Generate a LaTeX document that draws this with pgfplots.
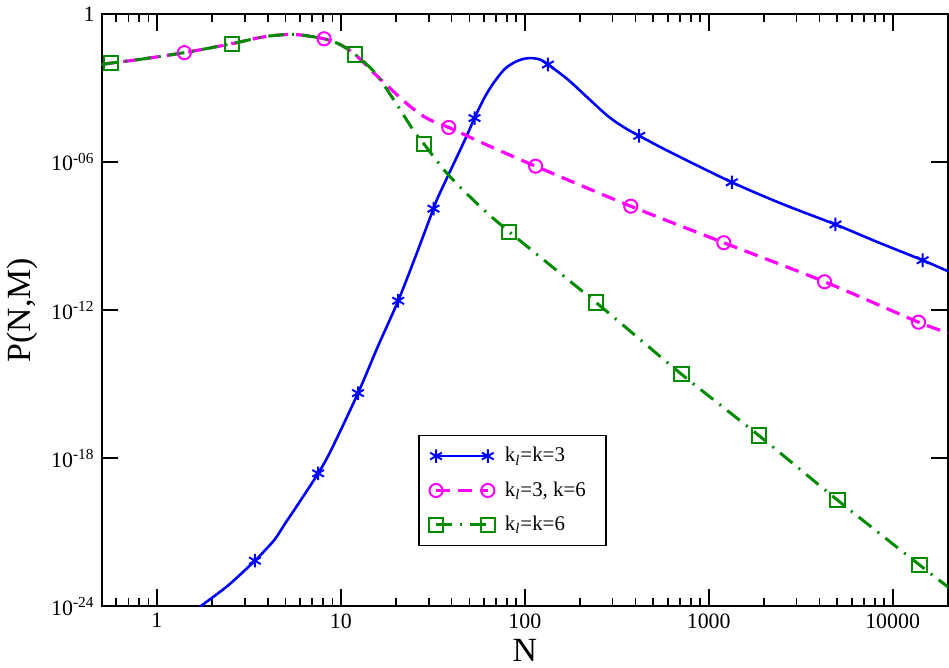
\documentclass[border=0pt]{standalone}
\usepackage{fontspec}
\setmainfont{Liberation Serif}
\usepackage{pgfplots}
\pgfplotsset{compat=1.18}
\definecolor{ggreen}{RGB}{0,139,0}
\definecolor{mag}{RGB}{255,0,255}
\definecolor{bblue}{RGB}{0,0,255}
\begin{document}
\begin{tikzpicture}
\begin{axis}[
 scale only axis, width=425pt, height=297.5pt,
 xmode=log, ymode=log,
 xmin=0.5, xmax=20000, ymin=1e-24, ymax=1,
 xtick={1,10,100,1000,10000}, xticklabels={1,10,100,1000,10000},
 minor xtick={0.6,0.7,0.8,0.9,2,3,4,5,6,7,8,9,20,30,40,50,60,70,80,90,200,300,400,500,600,700,800,900,2000,3000,4000,5000,6000,7000,8000,9000},
 ytick={1e-24,1e-18,1e-12,1e-6,1},
 yticklabels={10\textsuperscript{-24},10\textsuperscript{-18},10\textsuperscript{-12},10\textsuperscript{-06},1},
 yminorticks=false,
 tick align=inside,
 major tick length=8.5pt, minor tick length=4.3pt,
 tick style={black, line width=0.9pt},
 axis line style={line width=1pt},
 tick label style={font=\fontsize{11}{13}\selectfont},
 xlabel={N}, ylabel={P(N,M)},
 label style={font=\fontsize{17}{20}\selectfont},
 xlabel style={at={(axis description cs:0.5,-0.074)}, anchor=center},
 ylabel style={at={(axis description cs:-0.094,0.5)}, anchor=center},
 legend style={at={(rel axis cs:0.374,0.29)}, anchor=north west, font=\fontsize{10.5}{12}\selectfont, draw=black, line width=0.8pt, row sep=4.5pt, inner xsep=5pt, inner ysep=4pt, nodes={inner xsep=5pt}},
 legend cell align=left,
]
% ---- k_l=k=3 (blue)
\addplot[bblue, line width=1.3pt, smooth, forget plot] table {
1.60 6.31e-25
1.754 1.10e-24
2.44 7.08e-24
3.41 7.08e-23
3.90 2.00e-22
4.39 5.37e-22
5.00 2.40e-21
5.62 8.71e-21
7.53 2.45e-19
8.89 2.29e-18
12.4 4.37e-16
15.9 3.39e-14
20.5 2.40e-12
25.7 1.78e-10
31.9 1.29e-8
34.4 5.13e-8
47.0 7.24e-6
53.3 6.03e-5
60.3 3.98e-4
67.6 1.58e-3
77.4 5.62e-3
87.1 1.05e-2
97.7 1.48e-2
109.6 1.62e-2
123 1.35e-2
133.7 8.91e-3
171 2.24e-3
210 5.50e-4
282 7.41e-5
347 2.51e-5
419 1.15e-5
622 2.45e-6
1336 1.51e-7
2512 2.0e-8
4887 2.95e-9
8318 5.62e-10
14555 1.05e-10
20230 3.63e-11
};
\addplot[bblue, only marks, mark=asterisk, mark size=3.4pt, mark options={solid, line width=1pt},
 legend image code/.code={\draw[bblue, line width=1.3pt] plot[sharp plot, mark=asterisk, mark size=3.4pt, mark options={solid,line width=1pt}] coordinates {(0pt,0pt) (26pt,0pt)};}] table {
3.41 7.08e-23
7.53 2.45e-19
12.4 4.37e-16
20.5 2.40e-12
31.9 1.29e-8
53.3 6.03e-5
133.7 8.91e-3
419 1.15e-5
1336 1.51e-7
4887 2.95e-9
14555 1.05e-10
};
\addlegendentry{k\textsubscript{\textit{l}}=k=3}
% ---- k_l=3, k=6 (magenta)
\addplot[mag, line width=1.6pt, dash pattern=on 7pt off 4pt, smooth, forget plot] table {
0.5 8.91e-3
0.565 1.02e-2
0.794 1.41e-2
1.41 2.69e-2
2.55 6.17e-2
3.87 0.120
5.62 0.146
8.11 0.0977
9.89 0.0575
11.94 0.0229
15.9 2.82e-3
22.7 2.40e-4
28.2 7.08e-5
32.4 4.17e-5
38.6 2.51e-5
63.1 4.68e-6
114.5 6.76e-7
377 1.62e-8
1208 5.37e-10
4266 1.41e-11
13836 3.24e-13
20512 1.15e-13
};
\addplot[mag, only marks, mark=o, mark size=3.3pt, mark options={solid, line width=1pt},
 legend image code/.code={\draw[mag, line width=1.6pt, dash pattern=on 7pt off 4pt] plot[sharp plot, mark=o, mark size=3.3pt, mark options={solid,line width=1pt}] coordinates {(0pt,0pt) (26pt,0pt)};}] table {
1.41 2.69e-2
8.11 0.0977
38.6 2.51e-5
114.5 6.76e-7
377 1.62e-8
1208 5.37e-10
4266 1.41e-11
13836 3.24e-13
};
\addlegendentry{k\textsubscript{\textit{l}}=3, k=6}
% ---- k_l=k=6 (green)
\addplot[ggreen, line width=1.5pt, dash pattern=on 8pt off 4pt on 1pt off 4pt, smooth, forget plot] table {
0.5 8.91e-3
0.565 1.02e-2
0.794 1.41e-2
1.41 2.69e-2
2.55 6.17e-2
3.87 0.120
5.62 0.146
8.11 0.0977
9.89 0.0575
11.94 0.0229
15.3 4.17e-3
19.6 2.95e-4
24.7 2.0e-5
28.3 5.37e-6
38.2 3.16e-7
56.2 1.78e-8
82.4 1.48e-9
244 2.04e-12
710 2.57e-15
1875 8.32e-18
5023 2.0e-20
14000 4.79e-23
20370 5.50e-24
};
\addplot[ggreen, only marks, mark=square, mark size=3.6pt, mark options={solid, line width=1pt},
 legend image code/.code={\draw[ggreen, line width=1.5pt, dash pattern=on 8pt off 4pt on 1pt off 4pt] plot[sharp plot, mark=square, mark size=3.6pt, mark options={solid,line width=1pt}] coordinates {(0pt,0pt) (26pt,0pt)};}] table {
0.565 1.02e-2
2.55 6.17e-2
11.94 0.0229
28.3 5.37e-6
82.4 1.48e-9
244 2.04e-12
710 2.57e-15
1875 8.32e-18
5023 2.0e-20
14000 4.79e-23
};
\addlegendentry{k\textsubscript{\textit{l}}=k=6}
\end{axis}
\end{tikzpicture}
\end{document}
